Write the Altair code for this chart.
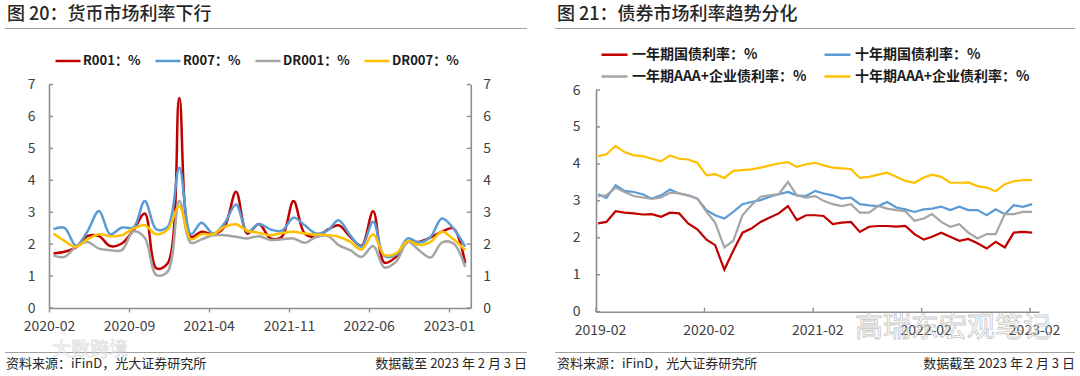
import altair as alt
import pandas as pd

# ---------------- data ----------------
# Left panel: money-market rates, monthly 2020-02 .. 2023-02
left_series = ["R001：%", "R007：%", "DR001：%", "DR007：%"]
left_colors = ["#C00000", "#5B9BD5", "#A5A5A5", "#FFC000"]
r001 = [1.71, 1.76, 1.90, 2.25, 2.25, 1.94, 2.02, 2.44, 2.96, 1.24, 1.40, 6.58, 2.23, 2.39, 2.31, 2.54, 3.64, 2.33,
        2.63, 2.18, 2.23, 3.35, 2.33, 2.23, 2.46, 2.59, 2.23, 1.95, 3.03, 1.42, 1.60, 2.07, 2.07, 2.21, 2.39, 2.49, 1.40]
r007 = [2.47, 2.51, 1.95, 2.39, 3.04, 2.31, 2.52, 2.52, 3.35, 2.46, 2.54, 4.39, 2.31, 2.67, 2.33, 2.65, 3.24, 2.39,
        2.63, 2.46, 2.42, 2.83, 2.59, 2.33, 2.44, 2.75, 2.28, 1.92, 2.70, 1.63, 1.66, 2.18, 2.05, 2.23, 2.80, 2.49, 1.92]
dr001 = [1.64, 1.60, 1.92, 2.07, 1.86, 1.81, 1.81, 2.40, 2.20, 1.03, 1.14, 3.35, 2.04, 2.15, 2.28, 2.28, 2.23, 2.18,
         2.25, 2.13, 2.15, 2.18, 2.04, 2.23, 2.25, 1.97, 1.81, 1.60, 1.94, 1.27, 1.45, 2.07, 1.81, 1.58, 2.05, 2.02, 1.29]
dr007 = [2.33, 2.10, 1.92, 2.15, 2.31, 2.25, 2.28, 2.49, 2.59, 2.31, 2.46, 3.19, 2.15, 2.31, 2.31, 2.54, 2.62, 2.42,
         2.35, 2.28, 2.35, 2.39, 2.33, 2.30, 2.28, 2.23, 2.07, 1.83, 2.31, 1.66, 1.71, 2.10, 1.97, 2.07, 2.39, 2.15, 1.81]
left_x_ticks = ["2020-02", "2020-09", "2021-04", "2021-11", "2022-06", "2023-01"]
left_y_ticks = [0, 1, 2, 3, 4, 5, 6, 7]

# Right panel: bond yields, monthly 2019-02 .. 2023-02
right_series = ["一年期国债利率：%", "十年期国债利率：%", "一年期AAA+企业债利率：%", "十年期AAA+企业债利率：%"]
right_colors = ["#C00000", "#5B9BD5", "#A5A5A5", "#FFC000"]
gov1y = [2.39, 2.43, 2.72, 2.68, 2.66, 2.63, 2.64, 2.57, 2.68, 2.66, 2.39, 2.23, 1.95, 1.80, 1.14, 1.65, 2.14, 2.25,
         2.43, 2.55, 2.66, 2.86, 2.48, 2.61, 2.61, 2.59, 2.37, 2.41, 2.43, 2.16, 2.30, 2.32, 2.32, 2.30, 2.32, 2.10,
         1.95, 2.03, 2.14, 2.03, 1.92, 1.97, 1.85, 1.71, 1.89, 1.74, 2.14, 2.16, 2.14]
gov10y = [3.18, 3.08, 3.42, 3.27, 3.24, 3.18, 3.06, 3.15, 3.31, 3.20, 3.15, 3.06, 2.75, 2.61, 2.52, 2.70, 2.91, 2.97,
          3.02, 3.11, 3.18, 3.24, 3.15, 3.13, 3.27, 3.20, 3.15, 3.06, 3.09, 2.91, 2.88, 2.86, 2.97, 2.82, 2.77, 2.70,
          2.77, 2.79, 2.84, 2.75, 2.84, 2.75, 2.75, 2.61, 2.77, 2.64, 2.88, 2.84, 2.91]
aaa1y = [3.13, 3.15, 3.36, 3.24, 3.13, 3.09, 3.05, 3.09, 3.22, 3.20, 3.15, 3.06, 2.70, 2.41, 1.74, 1.92, 2.61, 2.88,
         3.11, 3.15, 3.18, 3.51, 3.15, 3.09, 3.13, 3.00, 2.91, 2.86, 2.91, 2.68, 2.68, 2.86, 2.79, 2.75, 2.72, 2.46,
         2.52, 2.64, 2.43, 2.30, 2.37, 2.14, 1.98, 2.10, 2.10, 2.64, 2.64, 2.70, 2.70]
aaa10y = [4.21, 4.26, 4.49, 4.32, 4.23, 4.21, 4.14, 4.07, 4.23, 4.14, 4.12, 4.03, 3.69, 3.72, 3.62, 3.81, 3.83, 3.85,
          3.90, 3.96, 4.01, 4.05, 3.92, 3.99, 4.03, 3.96, 3.90, 3.88, 3.86, 3.62, 3.65, 3.71, 3.76, 3.65, 3.54, 3.49,
          3.63, 3.71, 3.65, 3.49, 3.49, 3.50, 3.40, 3.36, 3.26, 3.45, 3.53, 3.56, 3.56]
right_x_ticks = ["2019-02", "2020-02", "2021-02", "2022-02", "2023-02"]
right_y_ticks = [0, 1, 2, 3, 4, 5, 6]

# ---------------- helpers ----------------
FONT = "Noto Sans CJK SC"
AXC = "#8c8c8c"
LABC = "#404040"
W, H = 1080, 376


def dt(s, day=1):
    y, m = (int(v) for v in s.split("-")[:2])
    return alt.DateTime(year=y, month=m, date=day)


def month_dates(start, end, day):
    return [p.strftime("%Y-%m-") + f"{day:02d}" for p in pd.period_range(start, end, freq="M")]


left_dates = month_dates("2020-02", "2023-02", 13)
right_dates = month_dates("2019-02", "2023-02", 8)

left_df = pd.DataFrame({
    "date": left_dates * 4,
    "series": sum([[s] * len(left_dates) for s in left_series], []),
    "value": r001 + r007 + dr001 + dr007,
})
right_df = pd.DataFrame({
    "date": right_dates * 4,
    "series": sum([[s] * len(right_dates) for s in right_series], []),
    "value": gov1y + gov10y + aaa1y + aaa10y,
})

# pixel layout of the two plot areas
L_X0, L_X1, L_Y0, L_Y1 = 49, 470.8, 308, 84.5
R_X0, R_X1, R_Y0, R_Y1 = 596, 1039, 311.7, 90


def xl_scale():
    return alt.Scale(domain=[dt("2020-02"), alt.DateTime(year=2023, month=2, date=28)],
                     range=[L_X0, L_X1], nice=False)


def yl_scale():
    return alt.Scale(domain=[0, 7], range=[L_Y0, L_Y1], nice=False, zero=False)


def xr_scale():
    return alt.Scale(domain=[dt("2019-02"), alt.DateTime(year=2023, month=3, date=3)],
                     range=[R_X0, R_X1], nice=False)


def yr_scale():
    return alt.Scale(domain=[0, 6], range=[R_Y0, R_Y1], nice=False, zero=False)


axis_common = dict(title=None, grid=False, labelFont=FONT, labelFontSize=14, labelColor=LABC,
                   domainColor=AXC, domainWidth=1.6)

# ---------------- left panel ----------------
left_lines = alt.Chart(left_df).mark_line(interpolate="catmull-rom", strokeWidth=2.5).encode(
    x=alt.X("date:T", scale=xl_scale(),
            axis=alt.Axis(orient="bottom", offset=-(H - L_Y0), values=[dt(s) for s in left_x_ticks],
                          format="%Y-%m", ticks=True, tickSize=4, tickColor=AXC, tickWidth=1.4,
                          labelPadding=7, labelFlush=False, labelOverlap=False, **axis_common)),
    y=alt.Y("value:Q", scale=yl_scale(),
            axis=alt.Axis(orient="left", offset=-L_X0, values=left_y_ticks, ticks=False, tickSize=0,
                          labelPadding=14, **axis_common)),
    color=alt.Color("series:N", scale=alt.Scale(domain=left_series, range=left_colors),
                    legend=alt.Legend(title=None, orient="none", legendX=54, legendY=47,
                                      direction="horizontal", columns=4, symbolType="stroke",
                                      symbolSize=625, symbolStrokeWidth=2.5, labelFont=FONT,
                                      labelFontSize=13, labelFontWeight="bold", labelColor="#1a1a1a",
                                      labelOffset=1, columnPadding=9, padding=0, labelLimit=400)),
    order=alt.Order("series_order:Q"),
).transform_calculate(
    series_order=f"indexof({left_series!r}, datum.series)"
)

ltick_df = pd.DataFrame({"v": left_y_ticks})
left_right_axis = alt.Chart(ltick_df).mark_rule(color=AXC, strokeWidth=1.4).encode(
    y=alt.Y("v:Q", scale=yl_scale(),
            axis=alt.Axis(orient="right", offset=-(W - L_X1), values=left_y_ticks, ticks=False,
                          tickSize=0, labelPadding=12, **axis_common)),
    x=alt.value(L_X1 - 4), x2=alt.value(L_X1),
)
left_in_ticks = alt.Chart(ltick_df).mark_rule(color=AXC, strokeWidth=1.4).encode(
    y=alt.Y("v:Q", scale=yl_scale(), axis=None),
    x=alt.value(L_X0), x2=alt.value(L_X0 + 4),
)

# ---------------- right panel ----------------
right_lines = alt.Chart(right_df).mark_line(strokeWidth=2.2).encode(
    x=alt.X("date:T", scale=xr_scale(),
            axis=alt.Axis(orient="bottom", offset=-(H - R_Y0), values=[dt(s) for s in right_x_ticks],
                          format="%Y-%m", ticks=False, tickSize=0, labelPadding=12, labelOffset=4,
                          labelFlush=False, labelOverlap=False, **axis_common)),
    y=alt.Y("value:Q", scale=yr_scale(),
            axis=alt.Axis(orient="left", offset=-R_X0, values=right_y_ticks, ticks=False, tickSize=0,
                          labelPadding=16, **axis_common)),
    color=alt.Color("series:N", scale=alt.Scale(domain=right_series, range=right_colors),
                    legend=alt.Legend(title=None, orient="none", legendX=600, legendY=40,
                                      direction="horizontal", columns=2, symbolType="stroke",
                                      symbolSize=676, symbolStrokeWidth=2.5, labelFont=FONT,
                                      labelFontSize=14, labelFontWeight="bold", labelColor="#1a1a1a",
                                      labelOffset=3, columnPadding=12, rowPadding=-4, padding=0,
                                      labelLimit=400)),
    order=alt.Order("series_order:Q"),
).transform_calculate(
    series_order=f"indexof({right_series!r}, datum.series)"
)

rtick_df = pd.DataFrame({"v": right_y_ticks})
right_in_yticks = alt.Chart(rtick_df).mark_rule(color=AXC, strokeWidth=1.4).encode(
    y=alt.Y("v:Q", scale=yr_scale(), axis=None),
    x=alt.value(R_X0), x2=alt.value(R_X0 + 4),
)
rxtick_df = pd.DataFrame({"d": [s + "-01" for s in right_x_ticks]})
right_in_xticks = alt.Chart(rxtick_df).mark_rule(color=AXC, strokeWidth=1.4).encode(
    x=alt.X("d:T", scale=xr_scale(), axis=None),
    y=alt.value(R_Y0 - 4), y2=alt.value(R_Y0),
)

# ---------------- titles, separators, footers ----------------
one = pd.DataFrame({"a": [0]})


def txt(s, x, y, size, align="left", weight="normal", color="#262626"):
    return alt.Chart(one).mark_text(text=s, align=align, baseline="middle", font=FONT, fontSize=size,
                                    fontWeight=weight, color=color).encode(x=alt.value(x), y=alt.value(y))


def hrule(x1, x2, y):
    return alt.Chart(one).mark_rule(color="#a0a0a0", strokeWidth=1).encode(
        x=alt.value(x1), x2=alt.value(x2), y=alt.value(y))


def ghost(s, x, y, size, stroke, opacity):
    return alt.Chart(one).mark_text(
        text=s, align="left", baseline="middle", font=FONT, fontSize=size,
        fill="white", fillOpacity=0.45, stroke=stroke, strokeWidth=0.8, strokeOpacity=opacity,
    ).encode(x=alt.value(x), y=alt.value(y))


deco = [
    txt("图 20：货币市场利率下行", 7, 15, 18, weight=500),
    txt("图 21：债券市场利率趋势分化", 557, 15, 18, weight=500),
    hrule(5, 527, 28.5), hrule(555, 1075, 28.5),
    hrule(5, 527, 352.5), hrule(555, 1075, 352.5),
    txt("资料来源：iFinD，光大证券研究所", 6, 364, 13),
    txt("数据截至 2023 年 2 月 3 日", 527, 364, 13, align="right"),
    txt("资料来源：iFinD，光大证券研究所", 557, 364, 13),
    txt("数据截至 2023 年 2 月 3 日", 1075, 364, 13, align="right"),
]

watermarks = [
    ghost("大数跨境", 52, 350, 19, "#c4c4c4", 0.55),
    ghost("高瑞东宏观笔记", 855, 329, 28, "#9a9a9a", 0.6),
]

chart = alt.layer(
    left_in_ticks, left_right_axis, left_lines,
    right_in_yticks, right_in_xticks, right_lines,
    *deco, *watermarks,
).resolve_scale(
    x="independent", y="independent", color="independent"
).properties(
    width=W, height=H, padding=0, autosize=alt.AutoSizeParams(type="none"), background="white"
).configure_view(stroke=None)

chart.save("out.html", embed_options={"renderer": "svg", "actions": False})
